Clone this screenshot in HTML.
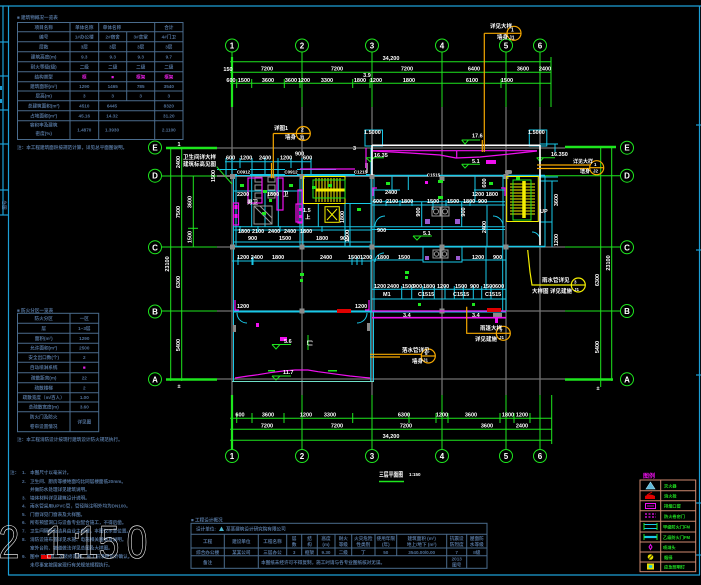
<!DOCTYPE html>
<html><head><meta charset="utf-8">
<style>
html,body{margin:0;padding:0;background:#000;}
svg{display:block}
text{font-family:"Liberation Sans","Noto Sans CJK SC",sans-serif;}
.w{fill:#fff;font-size:5.5px;font-weight:bold}
.t{fill:#52729a;font-size:4.6px;font-weight:bold}
.g{fill:#22e022;font-size:4.2px;font-weight:bold}
.ax{fill:#fff;font-size:8px;font-weight:bold;text-anchor:middle}
</style></head><body>
<svg width="701" height="585" viewBox="0 0 701 585" xmlns="http://www.w3.org/2000/svg">
<rect width="701" height="585" fill="#000"/>

<!-- FRAME -->
<g stroke="#1c9fd6" stroke-width="1.2" fill="none">
<line x1="0" y1="6" x2="701" y2="6"/>
<line x1="3" y1="6" x2="3" y2="215"/>
<line x1="8.5" y1="6" x2="8.5" y2="575"/>
<line x1="8" y1="575" x2="700" y2="575"/>
<line x1="699.5" y1="6" x2="699.5" y2="575"/>
<line x1="0" y1="42" x2="8" y2="42"/>
<line x1="0" y1="76" x2="8" y2="76"/>
<line x1="0" y1="110" x2="8" y2="110"/>
<line x1="0" y1="144" x2="8" y2="144"/>
<line x1="0" y1="190" x2="8" y2="190"/>
<line x1="0" y1="215" x2="8" y2="215"/>
<line x1="696" y1="125" x2="701" y2="125"/>
<line x1="696" y1="250" x2="701" y2="250"/>
<line x1="696" y1="375" x2="701" y2="375"/>
<line x1="696" y1="503" x2="701" y2="503"/>
<line x1="696" y1="555" x2="701" y2="555"/>
</g>
<rect x="0" y="86" width="2" height="4" fill="#1c9fd6"/>
<rect x="0" y="99" width="2" height="4" fill="#1c9fd6"/>
<text class="t" transform="translate(6,205) rotate(-90)" text-anchor="middle">图号</text>

<!-- TOP TABLE -->
<text class="t" x="17" y="19">■ 建筑物概况一览表</text>
<g stroke="#4a6b8c" stroke-width="1" fill="none">
<rect x="17.5" y="22.5" width="165.5" height="117"/>
<line x1="17.5" y1="31.7" x2="183" y2="31.7"/>
<line x1="17.5" y1="41.7" x2="183" y2="41.7"/>
<line x1="17.5" y1="51.7" x2="183" y2="51.7"/>
<line x1="17.5" y1="61.7" x2="183" y2="61.7"/>
<line x1="17.5" y1="71.7" x2="183" y2="71.7"/>
<line x1="17.5" y1="81.7" x2="183" y2="81.7"/>
<line x1="17.5" y1="91" x2="183" y2="91"/>
<line x1="17.5" y1="100.7" x2="183" y2="100.7"/>
<line x1="17.5" y1="110.7" x2="183" y2="110.7"/>
<line x1="17.5" y1="120.7" x2="183" y2="120.7"/>
<line x1="70" y1="22.5" x2="70" y2="139.5"/>
<line x1="98.7" y1="22.5" x2="98.7" y2="139.5"/>
<line x1="154.7" y1="22.5" x2="154.7" y2="139.5"/>
<line x1="126.7" y1="31.7" x2="126.7" y2="100.7"/>
</g>
<g class="t" text-anchor="middle">
<text x="43.7" y="28.8">项目名称</text><text x="84.3" y="28.8">单体名称</text><text x="112" y="28.8">单体名称</text><text x="168.8" y="28.8">合计</text>
<text x="43.7" y="38.5">编号</text><text x="84.3" y="38.5">1#办公楼</text><text x="112.7" y="38.5">2#宿舍</text><text x="140.7" y="38.5">3#食堂</text><text x="168.8" y="38.5">4#门卫</text>
<text x="43.7" y="48.5">层数</text><text x="84.3" y="48.5">3层</text><text x="112.7" y="48.5">3层</text><text x="140.7" y="48.5">3层</text><text x="168.8" y="48.5">3层</text>
<text x="43.7" y="58.5">建筑高度(m)</text><text x="84.3" y="58.5">9.3</text><text x="112.7" y="58.5">9.3</text><text x="140.7" y="58.5">9.3</text><text x="168.8" y="58.5">9.7</text>
<text x="43.7" y="68.5">耐火等级(级)</text><text x="84.3" y="68.5">二级</text><text x="112.7" y="68.5">二级</text><text x="140.7" y="68.5">二级</text><text x="168.8" y="68.5">二级</text>
<text x="43.7" y="78.5">结构类型</text>
<text x="84.3" y="78.5" style="fill:#e020e0">框</text><text x="112.7" y="78.5" style="fill:#e020e0">■</text><text x="140.7" y="78.5" style="fill:#e020e0">框架</text><text x="168.8" y="78.5" style="fill:#e020e0">框架</text>
<text x="43.7" y="88.1">建筑面积(m²)</text><text x="84.3" y="88.1">1290</text><text x="112.7" y="88.1">1465</text><text x="140.7" y="88.1">785</text><text x="168.8" y="88.1">3540</text>
<text x="43.7" y="97.6">层高(m)</text><text x="84.3" y="97.6">3</text><text x="112.7" y="97.6">3</text><text x="140.7" y="97.6">3</text><text x="168.8" y="97.6">3</text>
<text x="43.7" y="107.5">总建筑面积(m²)</text><text x="84.3" y="107.5">4510</text><text x="112" y="107.5">6445</text><text x="168.8" y="107.5">8320</text>
<text x="43.7" y="117.5">占地面积(m²)</text><text x="84.3" y="117.5">45.16</text><text x="112" y="117.5">14.32</text><text x="168.8" y="117.5">31.20</text>
<text x="43.7" y="126.5">容积率及建筑</text><text x="43.7" y="135">密度(%)</text><text x="84.3" y="131.5">1.4870</text><text x="112" y="131.5">1.3930</text><text x="168.8" y="131.5">2.1100</text>
</g>
<text class="t" x="17" y="149">注：本工程建筑面积按规范计算，详见总平面图说明。</text>

<!-- SECOND TABLE -->
<text class="t" x="17" y="312">■ 防火分区一览表</text>
<g stroke="#4a6b8c" stroke-width="1" fill="none">
<rect x="17.5" y="313.3" width="81.2" height="118.4"/>
<line x1="70" y1="313.3" x2="70" y2="431.7"/>
<line x1="17.5" y1="323.3" x2="98.7" y2="323.3"/>
<line x1="17.5" y1="333.3" x2="98.7" y2="333.3"/>
<line x1="17.5" y1="343.3" x2="98.7" y2="343.3"/>
<line x1="17.5" y1="352.7" x2="98.7" y2="352.7"/>
<line x1="17.5" y1="362.3" x2="98.7" y2="362.3"/>
<line x1="17.5" y1="372.7" x2="98.7" y2="372.7"/>
<line x1="17.5" y1="382.7" x2="98.7" y2="382.7"/>
<line x1="17.5" y1="392.7" x2="98.7" y2="392.7"/>
<line x1="17.5" y1="402" x2="98.7" y2="402"/>
<line x1="17.5" y1="411.7" x2="98.7" y2="411.7"/>
</g>
<g class="t" text-anchor="middle">
<text x="43.7" y="320">防火分区</text><text x="84.3" y="320">一区</text>
<text x="43.7" y="330">层</text><text x="84.3" y="330">1~3层</text>
<text x="43.7" y="340">面积(m²)</text><text x="84.3" y="340">1290</text>
<text x="43.7" y="349.7">允许面积(m²)</text><text x="84.3" y="349.7">2500</text>
<text x="43.7" y="359.2">安全出口数(个)</text><text x="84.3" y="359.2">2</text>
<text x="43.7" y="369.2">自动喷淋系统</text><text x="84.3" y="369.2" style="fill:#e020e0">■</text>
<text x="43.7" y="379.4">疏散距离(m)</text><text x="84.3" y="379.4">22</text>
<text x="43.7" y="389.4">疏散楼梯</text><text x="84.3" y="389.4">2</text>
<text x="43.7" y="399">疏散宽度（m/百人）</text><text x="84.3" y="399">1.00</text>
<text x="43.7" y="408.5">总疏散宽度(m)</text><text x="84.3" y="408.5">3.60</text>
<text x="43.7" y="418.5">防火门及防火</text><text x="43.7" y="428">卷帘设置情况</text><text x="84.3" y="423.5">详见图</text>
</g>
<text class="t" x="17" y="441">注：本工程消防设计按现行建筑设计防火规范执行。</text>

<!-- NOTES -->
<g class="t">
<text x="10" y="474">注：</text>
<text x="22" y="474">1.</text><text x="30" y="474">本图尺寸以毫米计。</text>
<text x="22" y="483">2.</text><text x="30" y="483">卫生间、厨房等楼地面均比同层楼面低20mm。</text>
<text x="30" y="491">并做防水处理详见建筑说明。</text>
<text x="22" y="499.5">3.</text><text x="30" y="499.5">墙体材料详见建筑设计说明。</text>
<text x="22" y="507.5">4.</text><text x="30" y="507.5">雨水管采用UPVC管，管径除注明外均为DN100。</text>
<text x="22" y="516">5.</text><text x="30" y="516">门窗详见门窗表及大样图。</text>
<text x="22" y="524">6.</text><text x="30" y="524">所有预留洞口与设备专业配合施工，不得后凿。</text>
<text x="22" y="532.5">7.</text><text x="30" y="532.5">卫生间隔断及洁具由业主自理，本图仅示意位置。</text>
<text x="22" y="541">8.</text><text x="30" y="541">消防设施布置详见水施、电施相关图纸及说明。</text>
<text x="30" y="549.5">室外台阶、坡道做法详见总图及大样图。</text>
<text x="22" y="558">9.</text><text x="30" y="558">图中        部分为二次装修范围，施工前须经设计确认。</text>
<text x="30" y="566.5">未尽事宜按国家现行有关规范规程执行。</text>
</g>
<rect x="41" y="555" width="10" height="4" fill="#e00000"/>
<g fill="none" stroke="#fff" stroke-width="0.6" font-size="46" text-anchor="middle" style="font-family:'Liberation Sans',sans-serif">
<text transform="translate(9,558) scale(0.82,1)">2</text>
<text transform="translate(55,558) scale(0.82,1)">1</text>
<text transform="translate(77,558) scale(0.82,1)">:</text>
<text transform="translate(88,558) scale(0.82,1)">1</text>
<text transform="translate(109,558) scale(0.82,1)">5</text>
<text transform="translate(137,558) scale(0.82,1)">0</text>
</g>

<!-- GRAY GRID -->
<g stroke="#727272" stroke-width="1.3">
<line x1="232" y1="107" x2="232" y2="395"/>
<line x1="302" y1="107" x2="302" y2="395"/>
<line x1="372" y1="107" x2="372" y2="395"/>
<line x1="442" y1="107" x2="442" y2="395"/>
<line x1="506" y1="107" x2="506" y2="395"/>
<line x1="540" y1="107" x2="540" y2="395"/>
<line x1="217" y1="148" x2="565" y2="148"/>
<line x1="217" y1="176" x2="540" y2="176" stroke-width="2"/>
<line x1="217" y1="247" x2="565" y2="247"/>
<line x1="217" y1="311" x2="565" y2="311"/>
<line x1="217" y1="379" x2="565" y2="379"/>
</g>

<!-- GREEN AXES & DIMS -->
<g stroke="#1ee61e" fill="none" stroke-width="1">
<line x1="232" y1="57" x2="232" y2="107" stroke-width="2.2"/>
<line x1="232" y1="52" x2="232" y2="57"/>
<line x1="302" y1="52" x2="302" y2="107"/>
<line x1="372" y1="52" x2="372" y2="107"/>
<line x1="442" y1="52" x2="442" y2="107"/>
<line x1="506" y1="52" x2="506" y2="107"/>
<line x1="540" y1="52" x2="540" y2="107"/>
<line x1="551" y1="57" x2="551" y2="107"/>
<line x1="230" y1="61.7" x2="551" y2="61.7"/>
<line x1="230" y1="72.3" x2="551" y2="72.3"/>
<line x1="230" y1="83.3" x2="551" y2="83.3"/>
<line x1="236.7" y1="79" x2="236.7" y2="88"/>
<line x1="251.7" y1="79" x2="251.7" y2="88"/>
<line x1="284.3" y1="79" x2="284.3" y2="88"/>
<line x1="300" y1="79" x2="300" y2="88"/>
<line x1="352.7" y1="79" x2="352.7" y2="88"/>
<line x1="370" y1="79" x2="370" y2="88"/>
<line x1="501" y1="79" x2="501" y2="88"/>
<circle cx="232" cy="45.5" r="6.5"/><circle cx="302" cy="45.5" r="6.5"/><circle cx="372" cy="45.5" r="6.5"/>
<circle cx="442" cy="45.5" r="6.5"/><circle cx="506" cy="45.5" r="6.5"/><circle cx="540" cy="45.5" r="6.5"/>
<line x1="232" y1="395" x2="232" y2="449" stroke-width="2.2"/>
<line x1="302" y1="395" x2="302" y2="449"/>
<line x1="372" y1="395" x2="372" y2="449"/>
<line x1="442" y1="395" x2="442" y2="449"/>
<line x1="506" y1="395" x2="506" y2="449"/>
<line x1="540" y1="395" x2="540" y2="449"/>
<line x1="551.7" y1="395" x2="551.7" y2="444"/>
<line x1="230" y1="418.3" x2="551.7" y2="418.3"/>
<line x1="230" y1="429.3" x2="551.7" y2="429.3"/>
<line x1="230" y1="440.3" x2="551.7" y2="440.3"/>
<line x1="236.7" y1="413" x2="236.7" y2="423"/>
<line x1="252" y1="413" x2="252" y2="423"/>
<line x1="284" y1="413" x2="284" y2="423"/>
<line x1="352.7" y1="413" x2="352.7" y2="423"/>
<line x1="409" y1="413" x2="409" y2="423"/>
<line x1="436" y1="413" x2="436" y2="423"/>
<line x1="448" y1="413" x2="448" y2="423"/>
<line x1="500" y1="413" x2="500" y2="423"/>
<line x1="514" y1="413" x2="514" y2="423"/>
<line x1="530" y1="413" x2="530" y2="423"/>
<circle cx="232" cy="456" r="6.5"/><circle cx="302" cy="456" r="6.5"/><circle cx="372" cy="456" r="6.5"/>
<circle cx="442" cy="456" r="6.5"/><circle cx="506" cy="456" r="6.5"/><circle cx="540" cy="456" r="6.5"/>
<line x1="166" y1="148" x2="217" y2="148" stroke-width="2.4"/>
<line x1="162" y1="176" x2="217" y2="176"/>
<line x1="162" y1="247" x2="217" y2="247"/>
<line x1="162" y1="311" x2="217" y2="311"/>
<line x1="166" y1="379.5" x2="217" y2="379.5" stroke-width="2.4"/>
<line x1="170.7" y1="147" x2="170.7" y2="381"/>
<line x1="181.7" y1="147" x2="181.7" y2="381"/>
<line x1="193.3" y1="176" x2="193.3" y2="247"/>
<line x1="188" y1="228.3" x2="198" y2="228.3"/>
<circle cx="155" cy="147.5" r="6.5"/><circle cx="155" cy="175.7" r="6.5"/><circle cx="155" cy="247.3" r="6.5"/>
<circle cx="155" cy="311.5" r="6.5"/><circle cx="155" cy="379.3" r="6.5"/>
<line x1="565" y1="147" x2="616" y2="147" stroke-width="2.4"/>
<line x1="540" y1="175.7" x2="621" y2="175.7"/>
<line x1="565" y1="247" x2="621" y2="247"/>
<line x1="565" y1="311" x2="621" y2="311"/>
<line x1="565" y1="379.5" x2="613" y2="379.5" stroke-width="2.4"/>
<line x1="600.7" y1="146" x2="600.7" y2="387"/>
<line x1="611.7" y1="146" x2="611.7" y2="381"/>
<circle cx="627" cy="147.7" r="6.5"/><circle cx="627" cy="175.7" r="6.5"/><circle cx="627" cy="247.3" r="6.5"/>
<circle cx="627" cy="311" r="6.5"/><circle cx="627" cy="379.3" r="6.5"/>
</g>
<g class="ax">
<text x="232" y="48.5">1</text><text x="302" y="48.5">2</text><text x="372" y="48.5">3</text><text x="442" y="48.5">4</text><text x="506" y="48.5">5</text><text x="540" y="48.5">6</text>
<text x="232" y="459">1</text><text x="302" y="459">2</text><text x="372" y="459">3</text><text x="442" y="459">4</text><text x="506" y="459">5</text><text x="540" y="459">6</text>
<text x="155" y="150.5">E</text><text x="155" y="178.7">D</text><text x="155" y="250.3">C</text><text x="155" y="314.5">B</text><text x="155" y="382.3">A</text>
<text x="627" y="150.7">E</text><text x="627" y="178.7">D</text><text x="627" y="250.3">C</text><text x="627" y="314">B</text><text x="627" y="382.3">A</text>
</g>

<!-- DIM TEXT -->
<g class="w" text-anchor="middle">
<text x="391" y="60">34,200</text>
<text x="228" y="71">150</text>
<text x="267" y="70.5">7200</text><text x="337" y="70.5">7200</text><text x="407" y="70.5">7200</text>
<text x="474" y="70.5">6400</text><text x="523" y="70.5">3600</text><text x="545" y="70.5">2400</text>
<text x="231" y="82">600</text><text x="244" y="82">1500</text><text x="268" y="82">3600</text><text x="291" y="82">3600</text><text x="304" y="82">1200</text>
<text x="327" y="82">3300</text><text x="360" y="82">1800</text><text x="376" y="82">1200</text><text x="409" y="82">1800</text>
<text x="472" y="82">6100</text><text x="507" y="82">1500</text>
<text x="367" y="77">3.9</text>
<text x="391" y="438">34,200</text>
<text x="267" y="427.5">7200</text><text x="337" y="427.5">7200</text><text x="406" y="427.5">7200</text>
<text x="487" y="427.5">3600</text><text x="522" y="427.5">2400</text>
<text x="240" y="416.5">600</text><text x="268" y="416.5">3600</text><text x="306" y="416.5">1200</text><text x="330" y="416.5">3300</text>
<text x="404" y="416.5">6300</text><text x="442" y="416.5">1200</text><text x="471" y="416.5">3600</text><text x="508" y="416.5">1800</text><text x="522" y="416.5">1200</text>
</g>
<g class="w" text-anchor="middle">
<text transform="translate(180,162) rotate(-90)">2400</text>
<text transform="translate(180,212) rotate(-90)">7500</text>
<text transform="translate(180,282) rotate(-90)">6300</text>
<text transform="translate(180,345) rotate(-90)">5400</text>
<text transform="translate(191.5,202) rotate(-90)">3600</text>
<text transform="translate(191.5,237) rotate(-90)">1500</text>
<text transform="translate(169,264) rotate(-90)">23100</text>
<text transform="translate(599,280) rotate(-90)">6300</text>
<text transform="translate(599,347) rotate(-90)">5400</text>
<text transform="translate(610,263) rotate(-90)">23100</text>
<text x="179" y="146">1</text><text x="179" y="388">±</text><text x="598" y="390">±</text>
</g>

<!-- BUILDING: CYAN WALLS -->
<g stroke="#19c8e8" fill="none" stroke-width="1">
<line x1="225" y1="161.7" x2="311" y2="161.7"/>
<line x1="226" y1="158" x2="226" y2="175"/><line x1="232" y1="158" x2="232" y2="175"/><line x1="240" y1="158" x2="240" y2="175"/>
<line x1="252" y1="158" x2="252" y2="175"/><line x1="265" y1="158" x2="265" y2="175"/><line x1="278" y1="158" x2="278" y2="175"/>
<line x1="291" y1="158" x2="291" y2="175"/><line x1="302" y1="158" x2="302" y2="175"/><line x1="311" y1="158" x2="311" y2="175"/>
<line x1="217" y1="169.5" x2="336" y2="169.5"/>
<line x1="232" y1="175" x2="372" y2="175" stroke-width="2"/>
<rect x="365" y="130" width="17.5" height="16"/>
<rect x="529.3" y="130" width="17.5" height="16"/>
<line x1="233.5" y1="175" x2="233.5" y2="381"/>
<line x1="236" y1="175" x2="236" y2="247"/>
<line x1="233" y1="191" x2="303" y2="191"/>
<line x1="251.7" y1="176" x2="251.7" y2="227"/>
<line x1="265" y1="191" x2="265" y2="227"/>
<line x1="278.3" y1="176" x2="278.3" y2="227"/>
<line x1="300" y1="176" x2="300" y2="247"/>
<line x1="303" y1="176" x2="303" y2="247"/>
<line x1="303" y1="203.5" x2="372" y2="203.5"/>
<line x1="318.3" y1="203.5" x2="318.3" y2="227"/>
<line x1="345" y1="176" x2="345" y2="247"/>
<line x1="350" y1="203.5" x2="350" y2="247"/>
<line x1="233" y1="226.7" x2="372" y2="226.7"/>
<line x1="233" y1="230" x2="372" y2="230"/>
<line x1="233" y1="242" x2="372" y2="242"/>
<line x1="233" y1="246.5" x2="545" y2="246.5" stroke-width="1.6"/>
<line x1="240" y1="226" x2="240" y2="232"/><line x1="258" y1="226" x2="258" y2="232"/><line x1="280" y1="226" x2="280" y2="232"/><line x1="322" y1="226" x2="322" y2="232"/>
<line x1="371" y1="148" x2="371" y2="311"/>
<line x1="374" y1="176" x2="374" y2="311"/>
<line x1="372" y1="175.5" x2="545" y2="175.5" stroke-width="1.6"/>
<line x1="372" y1="190" x2="400" y2="190"/>
<line x1="474" y1="190" x2="505" y2="190"/>
<line x1="392" y1="176" x2="392" y2="190"/>
<line x1="408.3" y1="176" x2="408.3" y2="190"/>
<line x1="475" y1="176" x2="475" y2="201.7"/>
<line x1="372" y1="201.7" x2="505" y2="201.7"/>
<line x1="372" y1="205" x2="505" y2="205"/>
<line x1="421.7" y1="201.7" x2="421.7" y2="227"/>
<line x1="461.7" y1="201.7" x2="461.7" y2="227"/>
<line x1="433" y1="201.7" x2="433" y2="210"/>
<line x1="372" y1="226.7" x2="505" y2="226.7"/>
<line x1="372" y1="229.5" x2="505" y2="229.5"/>
<line x1="487" y1="205" x2="487" y2="247"/>
<line x1="503" y1="176" x2="503" y2="247"/>
<line x1="386" y1="200" x2="386" y2="206"/><line x1="400" y1="200" x2="400" y2="206"/><line x1="412" y1="200" x2="412" y2="206"/>
<line x1="446" y1="200" x2="446" y2="206"/><line x1="470" y1="200" x2="470" y2="206"/>
<line x1="540" y1="144" x2="558" y2="144"/>
<line x1="540" y1="177" x2="558" y2="177"/>
<line x1="540" y1="181" x2="558" y2="181"/>
<line x1="545" y1="176" x2="545" y2="247"/>
<line x1="552" y1="181" x2="552" y2="247"/>
<line x1="555" y1="144" x2="555" y2="152"/>
<line x1="540" y1="222" x2="552" y2="222"/>
<path d="M375 226 A10 10 0 0 1 385 216"/>
<path d="M503 226 A10 10 0 0 0 493 216"/>
<path d="M375 262 A9 9 0 0 1 384 253"/>
<path d="M237 313 A10 10 0 0 0 247 323"/>
<path d="M367 313 A10 10 0 0 1 357 323"/>
<path d="M540 240 A8 8 0 0 0 532 232"/>
<rect x="423" y="247" width="39" height="15"/>
<line x1="372" y1="260" x2="423" y2="260"/>
<line x1="462" y1="260" x2="506" y2="260"/>
<line x1="486" y1="247" x2="486" y2="290"/>
<line x1="502.7" y1="247" x2="502.7" y2="311"/>
<line x1="506" y1="247" x2="506" y2="311"/>
<line x1="372" y1="289.3" x2="506" y2="289.3"/>
<line x1="372" y1="299" x2="506" y2="299"/>
<line x1="401.7" y1="286" x2="401.7" y2="299"/><line x1="411.7" y1="286" x2="411.7" y2="299"/><line x1="422.7" y1="286" x2="422.7" y2="299"/>
<line x1="434.3" y1="286" x2="434.3" y2="299"/><line x1="445" y1="286" x2="445" y2="299"/><line x1="454.3" y1="286" x2="454.3" y2="299"/>
<line x1="463.3" y1="286" x2="463.3" y2="299"/><line x1="473.3" y1="286" x2="473.3" y2="299"/><line x1="481.7" y1="286" x2="481.7" y2="299"/>
<line x1="491" y1="286" x2="491" y2="299"/>
<line x1="232" y1="261" x2="372" y2="261"/>
<line x1="238" y1="257" x2="238" y2="265"/><line x1="252" y1="257" x2="252" y2="265"/><line x1="253" y1="257" x2="253" y2="265"/>
<line x1="352" y1="257" x2="352" y2="265"/><line x1="357" y1="257" x2="357" y2="265"/><line x1="362" y1="257" x2="362" y2="265"/>
<line x1="233" y1="311.5" x2="506" y2="311.5" stroke-width="2"/>
<line x1="370.7" y1="311" x2="370.7" y2="381"/>
<line x1="373.5" y1="311" x2="373.5" y2="381"/>
<line x1="232" y1="381.5" x2="374" y2="381.5" stroke="#6fe0c8"/>
</g>
<g fill="#8a8a8a">
<rect x="230" y="174" width="5" height="5"/><rect x="299.5" y="174" width="5" height="5"/><rect x="369.5" y="174" width="5" height="5"/>
<rect x="439.5" y="176" width="5" height="5"/><rect x="503.5" y="174" width="5" height="5"/>
<rect x="230" y="244.5" width="5" height="5"/><rect x="299.5" y="244.5" width="5" height="5"/><rect x="369.5" y="244.5" width="5" height="5"/>
<rect x="439.5" y="244.5" width="5" height="5"/><rect x="503.5" y="244.5" width="5" height="5"/>
<rect x="299.5" y="308.5" width="5" height="5"/><rect x="439.5" y="308.5" width="5" height="5"/>
<rect x="233" y="325" width="3" height="7"/><rect x="367" y="323" width="3" height="8"/>
<rect x="493" y="313" width="9" height="4"/>
<rect x="505" y="170" width="7" height="4" rx="1.5"/>
<rect x="365" y="163" width="3" height="10"/>
</g>
<g fill="none" stroke="#999" stroke-width="1">
<rect x="255" y="177" width="7" height="5"/><rect x="255" y="185" width="7" height="5"/><rect x="255" y="193" width="7" height="5"/>
<rect x="268" y="177" width="7" height="5"/><rect x="268" y="185" width="7" height="5"/><rect x="268" y="193" width="7" height="5"/>
<rect x="254" y="206" width="18" height="18"/>
<line x1="254" y1="206" x2="272" y2="224"/><line x1="260" y1="206" x2="272" y2="218"/>
<rect x="432" y="207" width="8" height="9"/><rect x="441" y="207" width="8" height="9"/>
<circle cx="436" cy="211.5" r="2.5"/><circle cx="445" cy="211.5" r="2.5"/>
<rect x="433" y="250" width="7" height="8"/><rect x="441" y="250" width="7" height="8"/>
<circle cx="436.5" cy="254" r="2.2"/><circle cx="444.5" cy="254" r="2.2"/>
</g>
<g fill="#9a5ad0">
<rect x="425" y="219" width="5" height="5"/><rect x="455" y="219" width="5" height="5"/>
<rect x="425" y="256" width="4" height="4"/><rect x="456" y="256" width="4" height="4"/>
</g>

<!-- YELLOW STAIRS -->
<g stroke="#f4ee00" fill="none" stroke-width="1">
<rect x="303.5" y="176.5" width="41.5" height="27"/>
<line x1="316" y1="178" x2="316" y2="202"/><line x1="319" y1="178" x2="319" y2="202"/><line x1="322" y1="178" x2="322" y2="202"/>
<line x1="325" y1="178" x2="325" y2="202"/><line x1="328" y1="178" x2="328" y2="202"/><line x1="331" y1="178" x2="331" y2="202"/>
<line x1="334" y1="178" x2="334" y2="202"/><line x1="337" y1="178" x2="337" y2="202"/><line x1="340" y1="178" x2="340" y2="202"/>
<line x1="316" y1="190" x2="345" y2="190" stroke-width="3"/>
<rect x="325" y="206.7" width="14.3" height="15.6"/>
<line x1="327" y1="209" x2="337" y2="220"/><line x1="337" y1="209" x2="327" y2="220"/>
<rect x="506.7" y="176.5" width="31.6" height="45"/>
<line x1="510" y1="184" x2="535" y2="184"/><line x1="510" y1="187" x2="535" y2="187"/><line x1="510" y1="190" x2="535" y2="190"/>
<line x1="510" y1="193" x2="535" y2="193"/><line x1="510" y1="196" x2="535" y2="196"/><line x1="510" y1="199" x2="535" y2="199"/>
<line x1="510" y1="202" x2="535" y2="202"/><line x1="510" y1="205" x2="535" y2="205"/><line x1="510" y1="208" x2="535" y2="208"/>
<line x1="510" y1="211" x2="535" y2="211"/><line x1="510" y1="214" x2="535" y2="214"/>
<line x1="524" y1="181" x2="524" y2="218" stroke-width="3.5"/>
</g>
<g stroke="#1ee61e" fill="none" stroke-width="1">
<rect x="313" y="180" width="32" height="18"/>
<rect x="513" y="180" width="18" height="40"/>
<line x1="216.7" y1="166.7" x2="232" y2="184"/>
</g>

<!-- MAGENTA -->
<g stroke="#f010f0" fill="none" stroke-width="1.2">
<line x1="300" y1="169" x2="366" y2="169"/>
<line x1="366" y1="148" x2="366" y2="169"/>
<line x1="373" y1="150.7" x2="537" y2="150.7"/>
<polyline points="373,151 410,153 440,155 456,158 480,157 510,154 537,151"/>
<line x1="456.7" y1="150.7" x2="456.7" y2="158"/>
<rect x="248" y="178" width="14" height="25"/>
<rect x="277" y="178" width="6" height="32"/>
<rect x="298" y="190" width="4" height="33"/>
<rect x="233.5" y="203" width="5" height="22"/>
<rect x="296" y="204" width="6" height="18"/>
<polyline points="373,196 373,188 377,188"/>
<polyline points="505,196 505,188 501,188"/>
<polyline points="235,300 235,310 239,310"/>
<polyline points="369,300 369,310 365,310"/>
<line x1="372" y1="311" x2="506" y2="311"/>
<line x1="372" y1="317.7" x2="506" y2="317.7" stroke-width="1.6"/>
<polyline points="235,378 248,376 258,374.7 270,372.7 283,371 295,370 308,370 318,371.7 330,373.3 340,374.7 350,376 363,377.3 370,378"/>
</g>
<g fill="#f010f0">
<rect x="234.5" y="205" width="3" height="4"/><rect x="234.5" y="214" width="3" height="4"/>
<rect x="299" y="208" width="3" height="3"/><rect x="299" y="215" width="3" height="3"/>
<rect x="280" y="337" width="7" height="4"/>
<rect x="495" y="318" width="3" height="5"/>
<rect x="256" y="323" width="3" height="4"/>
<rect x="486" y="160" width="10" height="4"/>
<rect x="425" y="181" width="3" height="3"/>
</g>
<g fill="#e00000">
<rect x="337" y="309" width="14" height="4"/>
<rect x="487" y="308" width="14" height="4"/>
</g>

<!-- GREEN MARKERS / LEVELS -->
<g fill="#1ee61e">
<rect x="240" y="184" width="4" height="3"/><rect x="263" y="190" width="4" height="3"/><rect x="289" y="184" width="4" height="3"/>
<rect x="262" y="212" width="4" height="3"/><rect x="312" y="186" width="4" height="3"/><rect x="328" y="184" width="4" height="3"/>
<rect x="357" y="208" width="4" height="3"/><rect x="386" y="182" width="4" height="3"/><rect x="438" y="180" width="5" height="3"/>
<rect x="438" y="196" width="5" height="3"/><rect x="489" y="182" width="4" height="3"/><rect x="516" y="177" width="4" height="3"/>
<rect x="300" y="273" width="4" height="3"/><rect x="300" y="279" width="3" height="3"/>
<rect x="405" y="271" width="4" height="3"/><rect x="405" y="276" width="3" height="3"/>
<rect x="418" y="303" width="3" height="3"/><rect x="472" y="303" width="3" height="3"/>
<rect x="268" y="370" width="7" height="1.5"/><rect x="328" y="370" width="9" height="1.5"/>
<rect x="269" y="199" width="3" height="3"/>
</g>
<g stroke="#1ee61e" fill="none" stroke-width="1">
<line x1="272" y1="344.5" x2="291" y2="344.5"/><polyline points="272,344.5 276,349 280,344.5"/>
<line x1="272" y1="376" x2="291" y2="376"/><polyline points="272,376 276,380 280,376"/>
<line x1="461.7" y1="140" x2="480" y2="140"/><polyline points="461.7,140 465,144 468.5,140"/>
<line x1="461.7" y1="164.3" x2="480" y2="164.3"/><polyline points="461.7,164.3 465,168 468.5,164.3"/>
<line x1="413" y1="236" x2="432" y2="236"/><polyline points="413,236 417,240 421,236"/>
<line x1="366" y1="157.7" x2="384" y2="157.7"/><polyline points="366,157.7 370,161.5 374,157.7"/>
<line x1="536.7" y1="157.7" x2="555" y2="157.7"/><polyline points="536.7,157.7 540,161.5 543.5,157.7"/>
<line x1="308" y1="335" x2="308" y2="350"/>
</g>

<!-- WHITE OUTER LINES -->
<g stroke="#fff" fill="none" stroke-width="1.6">
<line x1="372" y1="145.3" x2="540" y2="145.3"/>
<line x1="372" y1="145" x2="372" y2="175"/>
<line x1="540" y1="145" x2="540" y2="245"/>
</g>
<g fill="#000"><rect x="237" y="168" width="13" height="7"/><rect x="285" y="168" width="12" height="7"/><rect x="355" y="168" width="11" height="7"/><rect x="428" y="171" width="11" height="7"/></g>
<g class="w" text-anchor="middle" style="font-size:4.5px">
<text x="243.5" y="173.5">C0912</text><text x="291" y="173.5">C0912</text><text x="360.5" y="173.5">C1215</text><text x="433.5" y="176.5">C1515</text>
</g>

<!-- ORANGE / YELLOW LEADERS -->
<g stroke="#f5a800" fill="none" stroke-width="1.2">
<circle cx="303.3" cy="133.5" r="7"/><line x1="273.3" y1="133.5" x2="310.3" y2="133.5"/>
<line x1="273.3" y1="133.5" x2="273.3" y2="178.3"/><line x1="271.5" y1="163" x2="271.5" y2="178.3"/>
<circle cx="514" cy="33.3" r="7"/><line x1="484.3" y1="33.3" x2="521" y2="33.3"/>
<line x1="484.3" y1="33.3" x2="484.3" y2="152"/><line x1="482.3" y1="140" x2="482.3" y2="152"/>
<circle cx="596.7" cy="167.7" r="7"/><line x1="589.7" y1="167.7" x2="603.7" y2="167.7"/>
<line x1="537" y1="165" x2="590" y2="165"/><line x1="537" y1="168.5" x2="590" y2="168.5"/>
<circle cx="503.3" cy="333.3" r="7"/><line x1="496.3" y1="333.3" x2="510.3" y2="333.3"/>
<polyline points="466.7,306.7 466.7,333.3 496.3,333.3"/>
<circle cx="428.3" cy="356" r="7"/><line x1="421.3" y1="356" x2="435.3" y2="356"/>
<line x1="370" y1="354.3" x2="421.3" y2="354.3"/><line x1="370" y1="357" x2="400" y2="357"/>
</g>
<g stroke="#f4ee00" fill="none" stroke-width="1.2">
<polyline points="527.7,250 530,272 532,285 571.3,285"/>
<circle cx="578.3" cy="285" r="7"/><line x1="571.3" y1="285" x2="585.3" y2="285"/>
</g>

<!-- WHITE LABELS IN PLAN -->
<g class="w">
<text x="490" y="28">详见大样</text><text x="497" y="39">墙身</text>
<text x="511" y="31.5" style="font-size:5px">1</text><text x="509" y="39.5" style="font-size:5px">J1</text>
<text x="274" y="130">详图1</text><text x="285" y="139">墙身</text>
<text x="301" y="131.5" style="font-size:5px">2</text><text x="299" y="139.5" style="font-size:5px">J1</text>
<text x="364" y="134">1.5000</text><text x="528" y="134">1.5000</text>
<text x="183" y="159">卫生间详大样</text><text x="183" y="166">建筑标高见图</text>
<text x="226" y="159.5">600</text><text x="240" y="159.5">1200</text><text x="259" y="159.5">2400</text><text x="280" y="159.5">1200</text><text x="295" y="155.5">900</text><text x="303" y="159.5">600</text>
<text x="353" y="150">3</text>
<text x="374" y="157">16.35</text><text x="472" y="137.5">17.6</text><text x="472" y="163">5.1</text><text x="551" y="156">16.350</text>
<text x="573" y="163" style="font-size:5px">详见大样</text><text x="580" y="173" style="font-size:5px">墙身</text>
<text x="594" y="166" style="font-size:4.5px">1</text><text x="593" y="172.5" style="font-size:4.5px">J2</text>
<text x="237" y="196">2200</text><text x="247" y="204">男卫</text><text x="267" y="196">1800</text><text x="283" y="196">卫</text>
<text x="303" y="212">1.5</text><text x="305" y="219">上</text>
<text x="238" y="233">1800</text><text x="252" y="233">2100</text><text x="268" y="233">2400</text><text x="284" y="233">2400</text><text x="300" y="233">1800</text>
<text x="248" y="240">900</text><text x="279" y="240">1500</text><text x="316" y="240">1800</text><text x="340" y="240">900</text>
<text x="385" y="194">2400</text><text x="373" y="203">600</text><text x="386" y="203">2100</text><text x="401" y="203">1800</text>
<text x="427" y="203">1500</text><text x="447" y="203">1500</text><text x="463" y="203">1800</text><text x="478" y="203">900</text>
<text x="377" y="232">900</text><text x="423" y="235">5.1</text>
<text x="472" y="196">1200 1800</text><text x="540" y="213">UP</text>
<text x="237" y="259">1200 2400</text><text x="272" y="259">1800</text><text x="320" y="259">2400</text><text x="348" y="259">1500</text><text x="360" y="259">1200</text>
<text x="377" y="259">1800</text><text x="398" y="259">1500</text><text x="472" y="259">1200</text><text x="493" y="259">900</text>
<text x="374" y="288">1200</text><text x="387" y="288">2400</text><text x="402" y="288">1500</text><text x="413" y="288">900</text>
<text x="423" y="288">1800</text><text x="437" y="288">1200</text><text x="455" y="288">1500</text><text x="470" y="288">900</text><text x="483" y="288">1500</text><text x="495" y="288">600</text>
<text x="383" y="296">M1</text><text x="418" y="296">C1515</text><text x="453" y="296">C1515</text><text x="485" y="296">C1515</text>
<text x="237" y="308">1200</text><text x="355" y="308">1200</text>
<text x="403" y="317">3.4</text><text x="472" y="317">3.4</text>
<text x="402" y="352">落水管详见</text><text x="412" y="363">墙身</text>
<text x="425" y="355" style="font-size:4.5px">5</text><text x="423" y="361.5" style="font-size:4.5px">J1</text>
<text x="480" y="330">雨篷大样</text><text x="475" y="341">详见建施</text>
<text x="500" y="332" style="font-size:4.5px">7</text><text x="499" y="339" style="font-size:4.5px">J1</text>
<text x="542" y="282">雨水管详见</text><text x="532" y="293">大样图 详见建施</text>
<text x="574" y="283.5" style="font-size:4.5px">3</text><text x="574" y="291" style="font-size:4.5px">J1</text>
<text x="284" y="343">5.6</text><text x="283" y="374">11.7</text>
</g>
<g class="w" text-anchor="middle">
<text transform="translate(344,217) rotate(-90)">1800</text>
<text transform="translate(349,236) rotate(-90)">1500</text>
<text transform="translate(486,227) rotate(-90)">2400</text>
<text transform="translate(420,212) rotate(-90)">900</text>
<text transform="translate(465,212) rotate(-90)">900</text>
<text transform="translate(558,200) rotate(-90)">3600</text>
<text transform="translate(558,240) rotate(-90)">1200</text>
<text transform="translate(486,183) rotate(-90)">600</text>
<text transform="translate(312,343) rotate(-90)">门</text>
<text transform="translate(215,176) rotate(-90)">1500</text>
</g>

<!-- PLAN TITLE -->
<text x="379" y="476.5" textLength="24" lengthAdjust="spacingAndGlyphs" style="fill:#fff;font-size:6.5px;font-weight:bold">三层平面图</text>
<text x="409" y="476" class="w" style="font-size:4.5px">1:150</text>
<line x1="379" y1="481.5" x2="404" y2="481.5" stroke="#1ee61e" stroke-width="1.5"/>

<!-- TITLE BLOCK -->
<text class="t" x="191" y="521.5">■ 工程设计概况</text>
<g stroke="#4a6b8c" fill="none" stroke-width="1">
<rect x="191" y="523.3" width="296" height="45"/>
<line x1="191" y1="534.3" x2="487" y2="534.3"/>
<line x1="191" y1="548" x2="487" y2="548"/>
<line x1="191" y1="555.7" x2="487" y2="555.7"/>
<line x1="224.3" y1="534.3" x2="224.3" y2="568.3"/>
<line x1="258.3" y1="534.3" x2="258.3" y2="568.3"/>
<line x1="286.7" y1="534.3" x2="286.7" y2="555.7"/>
<line x1="301.7" y1="534.3" x2="301.7" y2="555.7"/>
<line x1="317.3" y1="534.3" x2="317.3" y2="555.7"/>
<line x1="335" y1="534.3" x2="335" y2="555.7"/>
<line x1="351.7" y1="534.3" x2="351.7" y2="555.7"/>
<line x1="375" y1="534.3" x2="375" y2="555.7"/>
<line x1="396.7" y1="534.3" x2="396.7" y2="555.7"/>
<line x1="446.7" y1="534.3" x2="446.7" y2="568.3"/>
<line x1="466.7" y1="534.3" x2="466.7" y2="568.3"/>
</g>
<path d="M219 531 L221.5 526.5 L224 531 Z" fill="#4bb8d0"/>
<g class="t">
<text x="196" y="530.5">设计单位:</text><text x="226" y="530.5">某某建筑设计研究院有限公司</text>
</g>
<g class="t" text-anchor="middle">
<text x="207.6" y="543">工程</text><text x="241.3" y="543">建设单位</text><text x="272.5" y="543">工程名称</text>
<text x="294.2" y="540">层</text><text x="294.2" y="546">数</text>
<text x="309.5" y="540">结</text><text x="309.5" y="546">构</text>
<text x="326" y="540">高度</text><text x="326" y="546">(m)</text>
<text x="343.3" y="540">耐火</text><text x="343.3" y="546">等级</text>
<text x="363.3" y="540">火灾危险</text><text x="363.3" y="546">性类别</text>
<text x="385.8" y="540">使用年限</text><text x="385.8" y="546">(年)</text>
<text x="421.7" y="540">建筑面积 (m²)</text><text x="421.7" y="546">地上/地下 (m²)</text>
<text x="456.7" y="540">抗震设</text><text x="456.7" y="546">防烈度</text>
<text x="476.8" y="540">屋面防</text><text x="476.8" y="546">水等级</text>
<text x="207.6" y="553.8">综合办公楼</text><text x="241.3" y="553.8">某某公司</text><text x="272.5" y="553.8">三层办公</text>
<text x="294.2" y="553.8">3</text><text x="309.5" y="553.8">框架</text><text x="326" y="553.8">9.30</text><text x="343.3" y="553.8">二级</text>
<text x="363.3" y="553.8">丁</text><text x="385.8" y="553.8">50</text><text x="421.7" y="553.8">3540.00/0.00</text>
<text x="456.7" y="553.8">7</text><text x="476.8" y="553.8">II级</text>
<text x="207.6" y="564">备注</text>
<text x="456.7" y="560.5">2013</text><text x="456.7" y="566.5">图号</text>
</g>
<text class="t" x="261" y="564">本图纸未经许可不得复制，施工时请与各专业图纸核对无误。</text>

<!-- LEGEND -->
<text x="643" y="478" style="fill:#f010f0;font-size:6px;font-weight:bold">图例</text>
<g stroke="#d08a70" fill="none" stroke-width="1">
<rect x="640" y="480" width="55.7" height="91.7"/>
<line x1="660.7" y1="480" x2="660.7" y2="571.7"/>
<line x1="640" y1="490.7" x2="695.7" y2="490.7"/>
<line x1="640" y1="500.7" x2="695.7" y2="500.7"/>
<line x1="640" y1="510.7" x2="695.7" y2="510.7"/>
<line x1="640" y1="521.3" x2="695.7" y2="521.3"/>
<line x1="640" y1="532" x2="695.7" y2="532"/>
<line x1="640" y1="542" x2="695.7" y2="542"/>
<line x1="640" y1="552" x2="695.7" y2="552"/>
<line x1="640" y1="562" x2="695.7" y2="562"/>
</g>
<path d="M646 489 L650.5 482 L655 489 Z" fill="#5fb8d8" stroke="#a0e0f0" stroke-width="0.6"/>
<path d="M645 499 L645 496 Q650 493 655 496 L655 499 Z" fill="#e00000"/>
<line x1="647" y1="495" x2="652" y2="492" stroke="#e00000" stroke-width="1"/>
<rect x="645.5" y="503.5" width="10" height="5" fill="none" stroke="#f010f0" stroke-width="1"/>
<line x1="647" y1="506" x2="654" y2="506" stroke="#f010f0" stroke-width="0.8"/>
<line x1="645" y1="514" x2="656" y2="514" stroke="#f010f0" stroke-width="1.2" stroke-dasharray="2,1.5"/>
<line x1="645" y1="517" x2="656" y2="517" stroke="#f010f0" stroke-width="1.2" stroke-dasharray="2,1.5"/>
<line x1="644" y1="524.5" x2="657" y2="524.5" stroke="#19c8e8"/>
<line x1="644" y1="528.5" x2="657" y2="528.5" stroke="#19c8e8"/>
<line x1="644" y1="523" x2="644" y2="530" stroke="#1ee61e"/>
<line x1="657" y1="523" x2="657" y2="530" stroke="#1ee61e"/>
<line x1="644" y1="537" x2="657" y2="537" stroke="#19c8e8" stroke-width="2.2"/>
<line x1="644" y1="534" x2="644" y2="540" stroke="#1ee61e"/>
<line x1="657" y1="534" x2="657" y2="540" stroke="#1ee61e"/>
<path d="M650.5 544.5 L652 547 L650.5 549.5 L649 547 Z" fill="none" stroke="#f010f0"/>
<circle cx="650.5" cy="557" r="2.8" fill="#e8e000"/>
<line x1="648.5" y1="559" x2="652.5" y2="555" stroke="#000" stroke-width="0.7"/>
<rect x="647" y="563.5" width="7" height="6" fill="#e8e000"/>
<rect x="648.8" y="565.2" width="3.4" height="2.6" fill="#19c8e8"/>
<g class="g">
<text x="664" y="487.5">灭火器</text>
<text x="664" y="497.5">消火栓</text>
<text x="664" y="507.5">排烟口窗</text>
<text x="664" y="518">防火卷帘门</text>
<text x="663" y="528.5">甲级防火门FM</text>
<text x="663" y="538.8">乙级防火门FM</text>
<text x="663" y="548.8">喷淋头</text>
<text x="664" y="558.8">烟感</text>
<text x="664" y="568.5">应急照明灯</text>
</g>
</svg>
</body></html>
